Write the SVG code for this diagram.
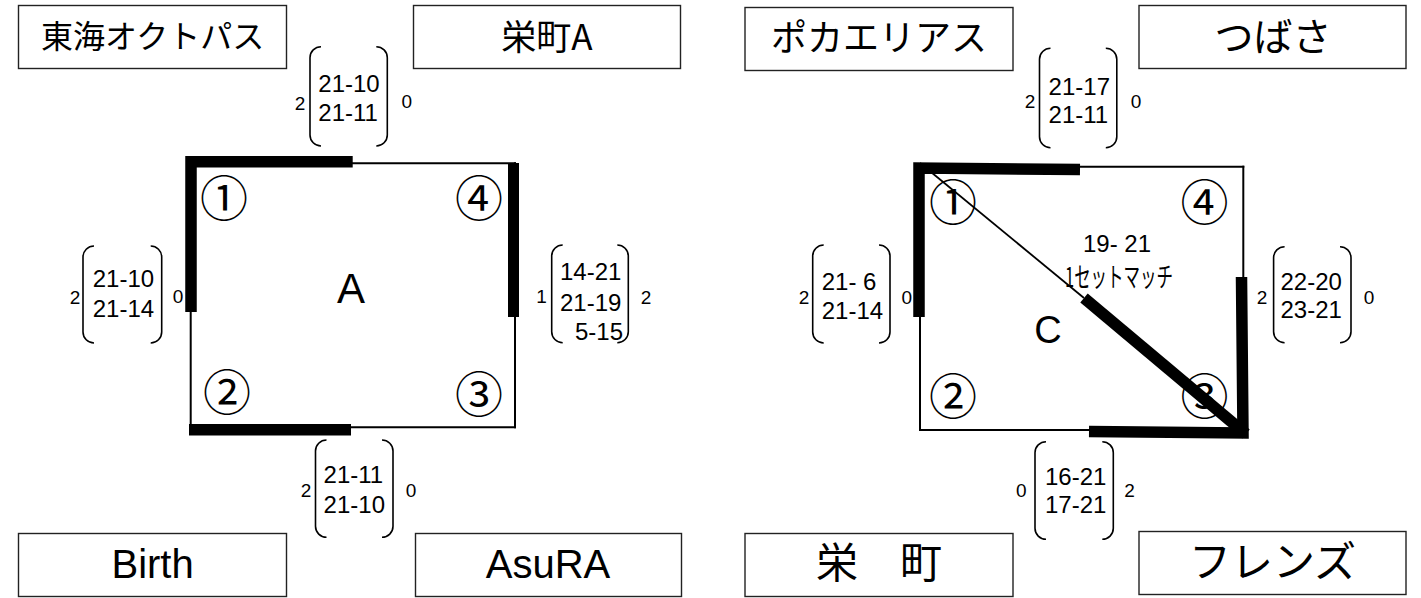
<svg xmlns="http://www.w3.org/2000/svg" width="1421" height="598" viewBox="0 0 1421 598">
<style>
.box{fill:#fff;stroke:#222;stroke-width:1.4}
.jp{font-family:"Noto Sans CJK JP","Liberation Sans",sans-serif;fill:#000}
.lat{font-family:"Liberation Sans",Arial,sans-serif;fill:#000}
.sc{font-family:"Liberation Sans",Arial,sans-serif;font-size:24px;fill:#000}
.sm{font-family:"Liberation Sans",Arial,sans-serif;font-size:19px;fill:#000;text-anchor:middle}
.num{font-family:"Noto Sans CJK JP",sans-serif;font-size:48px;fill:#000;text-anchor:middle}
.thin{stroke:#000;stroke-width:2;fill:none;stroke-linecap:square}
.thick{stroke:#000;stroke-width:11.5;fill:none;stroke-linecap:butt}
.br{stroke:#000;stroke-width:1.6;fill:none}
.mid{text-anchor:middle}
</style>

<!-- team boxes -->
<g id="team-tokai-octopus"><rect class="box" x="18.5" y="5.5" width="268" height="63"/><text class="jp mid" x="152.6" y="48" font-size="32">東海オクトパス</text></g>
<g id="team-sakaemachi-a"><rect class="box" x="413.5" y="5.5" width="267" height="63"/><text class="jp mid" x="547" y="50" font-size="35">栄町A</text></g>
<g id="team-birth"><rect class="box" x="18.5" y="533.5" width="268" height="63"/><text class="lat mid" x="152.6" y="578" font-size="40">Birth</text></g>
<g id="team-asura"><rect class="box" x="415.5" y="533.5" width="266" height="63"/><text class="lat mid" x="548" y="578" font-size="40">AsuRA</text></g>
<g id="team-poka-elias"><rect class="box" x="745" y="7.5" width="268" height="63"/><text class="jp mid" x="879" y="51" font-size="36">ポカエリアス</text></g>
<g id="team-tsubasa"><rect class="box" x="1139" y="5.5" width="267" height="63"/><text class="jp mid" x="1273" y="51" font-size="39">つばさ</text></g>
<g id="team-sakaemachi"><rect class="box" x="745" y="533.5" width="268" height="63"/><text class="jp mid" x="879" y="578" font-size="42">栄　町</text></g>
<g id="team-friends"><rect class="box" x="1139" y="531.5" width="267" height="63"/><text class="jp mid" x="1272.5" y="577" font-size="42">フレンズ</text></g>

<!-- connectors: match lines of the two pools -->
<g id="connectors">
  <!-- pool A -->
  <line class="thin" x1="352" y1="163.3" x2="515" y2="163.3"/>
  <line class="thin" x1="515" y1="163.3" x2="515" y2="427.3"/>
  <line class="thin" x1="190.7" y1="312" x2="190.7" y2="427.3"/>
  <line class="thin" x1="351" y1="427.3" x2="515" y2="427.3"/>
  <path class="thick" d="M191 312 V161.7 H352.7" stroke-linejoin="miter"/>
  <line class="thick" x1="513.5" y1="163" x2="513.5" y2="317" style="stroke-width:11"/>
  <line class="thick" x1="189" y1="429.7" x2="351" y2="429.7"/>
  <!-- pool C -->
  <line class="thin" x1="1080" y1="166.7" x2="1243.3" y2="166.7"/>
  <line class="thin" x1="1243.3" y1="166.7" x2="1243.3" y2="277"/>
  <line class="thin" x1="920" y1="316" x2="920" y2="430"/>
  <line class="thin" x1="920" y1="430" x2="1089" y2="430"/>
  <line x1="920" y1="163" x2="1084" y2="298" stroke="#000" stroke-width="1.8"/>
  <path class="thick" d="M919 317 V168 L1080 169.5" stroke-linejoin="miter"/>
  <path class="thick" d="M1084 298 L1246 434" />
  <path class="thick" d="M1241.5 277 L1243 433 L1089 431.5" stroke-linejoin="miter"/>
</g>

<!-- pool A labels -->
<g id="pool-a">
  <text class="num" x="224" y="216">①</text>
  <text class="num" x="479" y="216">④</text>
  <text class="num" x="227" y="410">②</text>
  <text class="num" x="479" y="412">③</text>
  <text class="lat mid" x="351" y="303" font-size="42">A</text>
</g>

<g id="score-a-top">
  <path class="br" d="M321 46.7 A11 11 0 0 0 310 57.7 V135 A11 11 0 0 0 321 146"/>
  <path class="br" d="M376.3 46.7 A11 11 0 0 1 387.3 57.7 V135 A11 11 0 0 1 376.3 146"/>
  <text class="sm" x="300" y="110">2</text>
  <text class="sc" x="318.3" y="91.7">21-10</text>
  <text class="sc" x="318.3" y="121">21-11</text>
  <text class="sm" x="406.7" y="108.3">0</text>
</g>
<g id="score-a-left">
  <path class="br" d="M94 246 A11 11 0 0 0 83 257 V332 A11 11 0 0 0 94 343"/>
  <path class="br" d="M150.7 246 A11 11 0 0 1 161.7 257 V332 A11 11 0 0 1 150.7 343"/>
  <text class="sm" x="75" y="304">2</text>
  <text class="sc" x="92.7" y="287">21-10</text>
  <text class="sc" x="92.7" y="316.5">21-14</text>
  <text class="sm" x="178" y="303.3">0</text>
</g>
<g id="score-a-right">
  <path class="br" d="M562.7 245 A11 11 0 0 0 551.7 256 V331.7 A11 11 0 0 0 562.7 342.7"/>
  <path class="br" d="M617.3 245 A11 11 0 0 1 628.3 256 V331.7 A11 11 0 0 1 617.3 342.7"/>
  <text class="sm" x="541.5" y="302.7">1</text>
  <text class="sc" x="560" y="280">14-21</text>
  <text class="sc" x="560" y="311">21-19</text>
  <text class="sc" x="575" y="340">5-15</text>
  <text class="sm" x="646" y="304">2</text>
</g>
<g id="score-a-bottom">
  <path class="br" d="M326.5 440 A11 11 0 0 0 315.5 451 V526.3 A11 11 0 0 0 326.5 537.3"/>
  <path class="br" d="M382 440 A11 11 0 0 1 393 451 V526.3 A11 11 0 0 1 382 537.3"/>
  <text class="sm" x="306" y="496.7">2</text>
  <text class="sc" x="323.6" y="483.3">21-11</text>
  <text class="sc" x="323.6" y="513.3">21-10</text>
  <text class="sm" x="411" y="496.7">0</text>
</g>

<!-- pool C labels -->
<g id="pool-c">
  <text class="num" x="953" y="220">①</text>
  <text class="num" x="1204.5" y="220">④</text>
  <text class="num" x="953" y="414">②</text>
  <text class="num" x="1204.5" y="414">③</text>
  <text class="lat mid" x="1048" y="343" font-size="38">C</text>
  <text class="lat mid" x="1117" y="252" font-size="24">19- 21</text>
  <text class="jp mid" x="1119" y="287" font-size="27" textLength="108" lengthAdjust="spacingAndGlyphs">1セットマッチ</text>
</g>

<g id="score-c-top">
  <path class="br" d="M1050.5 48.3 A11 11 0 0 0 1039.5 59.3 V136.7 A11 11 0 0 0 1050.5 147.7"/>
  <path class="br" d="M1105.8 48.3 A11 11 0 0 1 1116.8 59.3 V136.7 A11 11 0 0 1 1105.8 147.7"/>
  <text class="sm" x="1030" y="108.3">2</text>
  <text class="sc" x="1048.6" y="95">21-17</text>
  <text class="sc" x="1048.6" y="123.3">21-11</text>
  <text class="sm" x="1136" y="108.3">0</text>
</g>
<g id="score-c-left">
  <path class="br" d="M823.7 245 A11 11 0 0 0 812.7 256 V332 A11 11 0 0 0 823.7 343"/>
  <path class="br" d="M879 245 A11 11 0 0 1 890 256 V332 A11 11 0 0 1 879 343"/>
  <text class="sm" x="804" y="304">2</text>
  <text class="sc" x="821.7" y="290">21- 6</text>
  <text class="sc" x="821.7" y="319.3">21-14</text>
  <text class="sm" x="906.7" y="304">0</text>
</g>
<g id="score-c-right">
  <path class="br" d="M1284.6 246.7 A11 11 0 0 0 1273.6 257.7 V331.7 A11 11 0 0 0 1284.6 342.7"/>
  <path class="br" d="M1340 246.7 A11 11 0 0 1 1351 257.7 V331.7 A11 11 0 0 1 1340 342.7"/>
  <text class="sm" x="1262" y="304">2</text>
  <text class="sc" x="1280.5" y="290">22-20</text>
  <text class="sc" x="1280.5" y="318.3">23-21</text>
  <text class="sm" x="1369" y="304">0</text>
</g>
<g id="score-c-bottom">
  <path class="br" d="M1046 441.7 A11 11 0 0 0 1035 452.7 V528.3 A11 11 0 0 0 1046 539.3"/>
  <path class="br" d="M1102.3 441.7 A11 11 0 0 1 1113.3 452.7 V528.3 A11 11 0 0 1 1102.3 539.3"/>
  <text class="sm" x="1021.3" y="496.7">0</text>
  <text class="sc" x="1045" y="485">16-21</text>
  <text class="sc" x="1045" y="513.3">17-21</text>
  <text class="sm" x="1129.5" y="496.7">2</text>
</g>
</svg>
